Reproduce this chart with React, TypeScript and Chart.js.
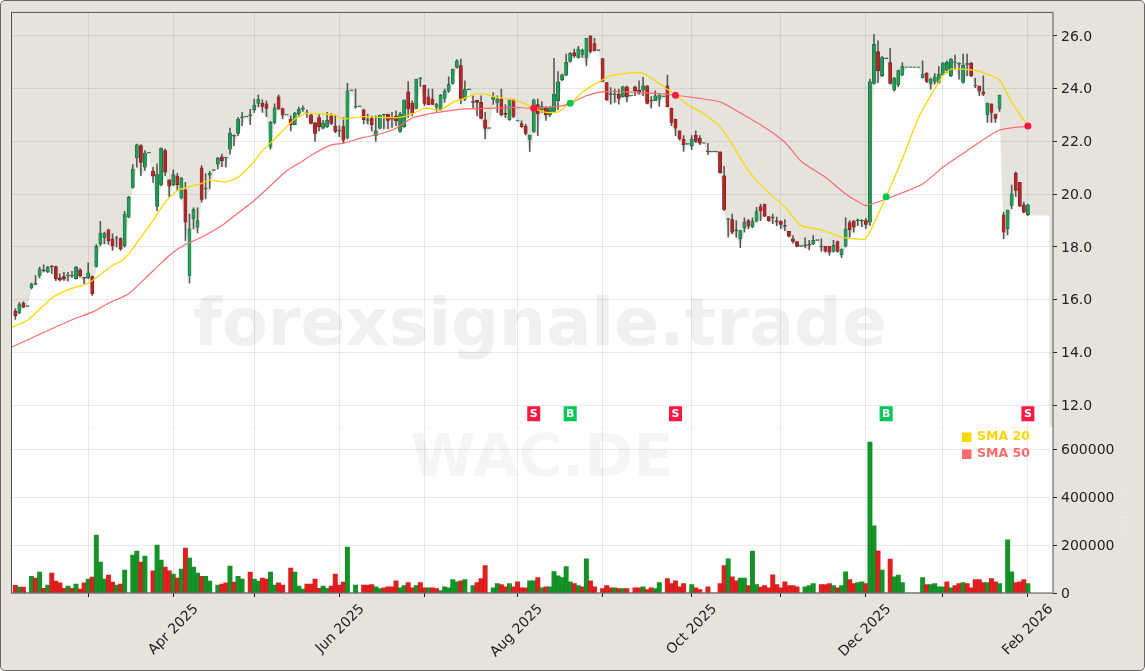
import { useEffect, useRef } from "react";
import { Chart, registerables } from "chart.js";

Chart.register(...registerables);

const opens = [
  15.57,15.50,15.87,15.75,16.45,16.58,16.92,17.12,17.05,17.25,
  17.26,16.83,16.88,16.90,16.90,16.80,17.13,16.84,16.83,16.88,
  17.26,18.12,18.35,18.65,18.30,18.33,18.32,18.05,19.13,20.26,
  21.37,21.84,21.02,21.56,20.88,19.54,20.35,21.65,20.54,20.35,
  20.69,19.85,20.17,16.90,19.06,18.75,21.00,20.20,20.72,20.90,
  21.14,21.42,21.37,21.71,22.20,22.30,22.90,22.93,22.98,23.20,
  23.44,23.45,23.42,21.78,22.70,23.69,23.24,23.00,22.85,22.63,
  23.04,23.22,23.05,23.00,22.70,22.90,22.50,22.56,22.97,22.58,
  22.40,22.56,22.13,23.92,23.30,23.32,23.20,22.80,22.88,22.22,
  22.50,23.00,23.04,22.85,22.95,22.38,22.56,23.88,23.45,23.25,
  24.38,24.13,23.69,23.60,23.30,23.19,23.63,23.90,24.20,24.80,
  24.87,23.60,23.96,23.50,23.56,23.48,22.82,22.49,23.59,23.48,
  23.60,23.06,22.82,23.58,22.78,22.68,22.58,22.08,22.38,23.40,
  23.19,23.26,23.00,23.14,23.54,24.34,24.51,25.03,25.37,25.18,
  25.30,25.18,26.00,25.71,25.45,25.14,24.23,23.78,23.77,23.79,
  23.70,24.07,23.72,24.07,23.94,23.94,24.11,23.55,23.54,23.60,
  23.70,24.11,23.26,22.85,22.40,22.09,21.90,21.84,22.24,22.12,
  21.93,21.62,21.60,21.60,21.61,20.70,19.04,19.04,18.62,18.31,
  18.72,19.00,18.77,18.98,19.53,19.63,19.15,19.10,18.98,18.96,
  18.79,18.59,18.31,18.20,18.02,18.05,18.08,18.12,18.25,18.00,
  18.02,18.02,17.84,18.20,17.70,18.03,18.92,18.99,19.00,18.98,
  19.00,18.94,24.20,25.40,24.49,25.14,24.99,23.96,24.15,24.52,
  24.80,24.80,24.80,24.80,24.42,24.59,24.20,24.27,24.23,24.52,
  24.70,24.49,24.99,24.93,24.24,24.93,24.97,24.10,24.10,23.88,
  23.00,23.42,23.04,23.25,19.22,18.69,19.57,20.80,20.45,19.60,19.22,
];
const highs = [
  15.66,15.90,15.93,15.75,16.63,16.92,17.24,17.32,17.27,17.30,
  17.28,16.98,17.04,17.04,17.08,17.27,17.18,16.84,17.40,16.90,
  18.09,18.97,18.56,18.68,18.50,18.40,18.35,19.35,19.92,21.12,
  21.90,21.88,21.65,21.56,21.02,21.15,21.75,21.71,20.54,20.92,
  20.79,20.64,20.45,19.25,19.48,19.48,21.08,20.77,20.87,20.90,
  21.40,21.52,21.40,22.51,22.25,22.91,23.10,22.93,23.22,23.60,
  23.77,23.58,23.54,22.76,23.42,23.77,23.26,23.00,22.97,23.10,
  23.30,23.35,23.19,23.03,22.72,23.03,22.80,23.10,23.06,23.00,
  22.60,22.90,24.20,23.92,23.98,23.32,23.23,23.04,22.97,22.97,
  23.00,23.04,23.04,23.10,23.16,23.10,23.58,24.27,23.54,24.36,
  24.42,24.13,23.98,23.98,23.44,23.78,23.98,24.45,24.74,25.10,
  25.12,24.30,23.96,23.73,23.56,23.73,23.10,22.49,23.85,23.73,
  23.98,23.40,23.60,23.60,22.78,22.78,22.65,22.24,23.60,23.60,
  23.50,23.32,23.32,25.15,24.65,24.55,25.31,25.37,25.50,25.60,
  25.50,25.91,26.00,25.91,25.45,25.14,24.23,24.04,23.98,23.98,
  24.10,24.10,23.72,24.10,24.30,24.43,24.12,23.70,23.92,23.77,
  23.70,24.51,23.26,22.85,22.40,22.22,21.90,22.22,22.40,22.22,
  21.93,21.93,21.60,21.60,21.61,21.06,19.09,19.25,19.00,18.62,
  19.10,19.04,19.10,19.50,19.63,19.63,19.15,19.25,19.13,19.00,
  19.04,18.59,18.43,18.20,18.02,18.35,18.25,18.43,18.25,18.31,
  18.02,18.02,18.25,18.22,17.93,19.10,19.00,19.00,19.06,19.04,
  19.09,24.36,26.06,25.81,25.22,25.14,25.53,24.43,24.70,24.99,
  24.80,24.80,24.80,24.80,25.05,24.61,24.40,24.57,24.84,24.99,
  25.05,25.14,25.27,24.99,25.31,25.31,25.00,24.40,24.10,24.49,
  23.45,23.42,23.04,23.76,19.32,19.40,20.35,20.85,20.45,19.70,19.63,
];
const lows = [
  15.25,15.47,15.70,15.75,16.41,16.58,16.83,17.05,17.03,17.00,
  16.72,16.70,16.73,16.70,16.85,16.78,16.86,16.60,16.80,16.16,
  17.23,18.05,18.12,18.10,17.87,18.00,17.87,17.99,19.11,20.23,
  21.02,20.70,20.90,21.56,20.45,19.38,20.32,20.70,19.90,20.32,
  20.13,19.82,18.24,16.63,18.68,18.53,19.70,19.82,20.20,20.90,
  20.96,21.04,21.02,21.52,21.84,22.22,22.60,22.93,22.63,23.10,
  23.31,23.10,22.94,21.71,22.66,23.22,22.85,23.00,22.40,22.63,
  22.98,23.14,22.91,22.66,22.00,22.40,22.47,22.53,22.63,22.33,
  22.18,21.93,22.09,23.92,23.26,23.32,22.66,22.66,22.40,22.00,
  22.47,22.47,22.47,22.53,22.60,22.34,22.53,22.91,22.97,23.23,
  24.08,23.35,23.39,23.39,23.14,23.17,23.48,23.86,24.17,24.78,
  23.42,23.54,23.96,23.26,22.97,22.85,22.09,22.49,23.40,23.10,
  22.97,22.90,22.80,22.90,22.78,22.53,22.25,21.61,22.34,22.22,
  23.10,22.80,22.95,23.10,23.20,24.30,24.49,25.00,25.18,25.15,
  25.18,24.87,25.34,25.43,25.45,24.26,23.54,23.41,23.48,23.41,
  23.68,23.50,23.72,23.73,23.79,23.73,23.42,23.26,23.54,23.33,
  23.70,23.31,22.60,22.22,22.05,21.62,21.90,21.69,21.96,21.88,
  21.93,21.50,21.60,21.60,20.80,19.38,18.37,18.50,18.37,17.97,
  18.56,18.69,18.72,18.95,19.00,19.15,18.97,18.88,18.81,18.69,
  18.62,18.37,18.14,18.00,18.02,17.96,17.89,18.09,18.25,17.83,
  17.80,17.68,17.80,17.80,17.59,18.00,18.37,18.56,18.81,18.77,
  18.69,18.81,24.17,24.23,24.45,25.14,24.17,23.90,24.07,24.49,
  24.80,24.80,24.80,24.80,24.40,24.23,23.98,24.17,24.20,24.49,
  24.60,24.45,24.74,24.36,24.21,24.49,24.45,24.04,23.73,23.73,
  22.72,22.72,22.72,23.14,18.31,18.46,19.45,19.92,19.53,19.29,19.19,
];
const closes = [
  15.40,15.82,15.72,15.75,16.58,16.62,17.17,17.10,17.24,17.24,
  16.80,16.76,16.78,16.92,16.92,17.24,16.91,16.82,17.02,16.23,
  18.02,18.53,18.53,18.24,18.05,18.36,17.93,19.25,19.88,20.95,
  21.87,21.20,21.56,21.56,20.68,20.74,21.75,20.83,20.30,20.74,
  20.36,20.61,18.94,18.69,19.42,19.00,19.80,20.20,20.80,20.90,
  21.37,21.27,21.40,22.32,22.23,22.85,22.93,22.93,23.00,23.38,
  23.60,23.33,23.25,22.72,23.27,23.22,22.99,23.00,22.63,23.07,
  23.22,23.26,23.07,22.68,22.30,22.56,22.70,22.80,22.68,22.38,
  22.40,22.05,23.92,23.92,23.33,23.32,22.82,22.80,22.63,22.40,
  23.00,23.00,22.80,22.84,22.78,23.04,23.57,23.23,23.07,24.36,
  24.40,23.44,23.39,23.40,23.40,23.75,23.90,24.15,24.74,25.05,
  23.60,23.96,23.96,23.48,23.48,22.87,22.49,22.49,23.70,23.60,
  23.00,23.02,23.58,22.95,22.78,22.56,22.30,22.24,23.58,23.04,
  23.32,23.00,23.29,23.79,24.26,24.52,25.00,25.34,25.24,25.50,
  25.45,25.91,25.41,25.43,25.45,24.27,23.57,23.80,23.79,23.63,
  24.07,23.70,23.72,23.92,23.83,24.11,23.44,23.53,23.73,23.77,
  23.70,23.31,22.72,22.50,22.09,21.88,21.90,22.09,22.00,21.93,
  21.93,21.60,21.60,21.60,20.82,19.42,19.05,18.56,18.62,18.62,
  18.93,18.79,18.96,19.34,19.38,19.17,19.00,19.12,18.96,18.85,
  18.78,18.41,18.21,18.02,18.02,18.06,18.07,18.25,18.25,18.00,
  17.84,17.80,18.06,17.83,17.90,18.68,18.66,18.75,19.00,18.98,
  18.85,24.26,25.68,24.68,25.18,25.14,24.20,24.40,24.68,24.84,
  24.80,24.80,24.80,24.80,24.55,24.27,24.36,24.45,24.55,24.97,
  25.00,25.12,24.99,24.93,24.89,24.92,24.49,24.10,23.90,23.79,
  23.45,23.10,22.87,23.76,18.56,19.40,20.01,20.14,19.55,19.32,19.60,
];
const volumes = [
  32000,25000,25000,0,70000,62000,87000,20000,33000,83000,
  50000,42000,20000,29000,20000,37000,16000,42000,58000,66000,
  242000,129000,58000,75000,46000,33000,37000,96000,0,158000,
  175000,129000,154000,0,92000,200000,137000,108000,92000,79000,
  62000,100000,187000,146000,108000,83000,70000,70000,50000,0,
  33000,37000,42000,112000,46000,70000,58000,0,87000,58000,
  50000,62000,58000,87000,33000,42000,33000,0,104000,87000,
  29000,16000,37000,37000,58000,20000,29000,20000,29000,79000,
  33000,46000,192000,0,33000,0,33000,33000,35000,26000,
  18000,22000,26000,26000,51000,22000,31000,43000,22000,31000,
  43000,22000,22000,22000,18000,10000,26000,22000,56000,47000,
  51000,56000,0,31000,43000,60000,114000,0,22000,39000,
  35000,26000,39000,26000,47000,22000,22000,51000,51000,64000,
  22000,26000,26000,89000,72000,64000,110000,47000,39000,31000,
  26000,143000,51000,26000,0,18000,31000,22000,22000,18000,
  18000,18000,0,22000,22000,26000,14000,22000,18000,43000,
  0,60000,39000,51000,26000,39000,0,35000,22000,14000,
  0,26000,0,0,39000,114000,143000,68000,51000,62000,
  62000,31000,175000,35000,25000,31000,22000,76000,35000,22000,
  47000,31000,31000,26000,0,26000,31000,39000,0,35000,
  35000,39000,31000,22000,31000,88000,56000,39000,43000,47000,
  39000,630000,280000,176000,96000,0,142000,67000,75000,43000,
  0,0,0,0,64000,35000,35000,39000,26000,26000,
  47000,22000,31000,39000,43000,39000,22000,56000,56000,43000,
  43000,60000,47000,39000,0,222000,88000,43000,47000,56000,39000,
];
const volSides =
  "rgrrgrgrgr" + "rrrgrgrrgr" + "gggrrgrggg" + "grggrggrrg" + "rgrgggrggg" +
  "grrgrgggrg" + "grrggrrrrg" + "ggrrrrggrr" + "rrggggrrrg" + "grrrrggrrg" +
  "rrgrrggggg" + "rgggrrrrgg" + "rrgrrrrggr" + "grggggggrg" + "rgrrrrrrgr" +
  "grrrrgrrgg" + "rrrrrrrgrr" + "rrrrrrgrrg" + "grggrrrrrr" + "rrrrrggggr" +
  "rrgrggrrgg" + "rggrggrggg" + "gggggrgggg" + "rgrrgrrrrr" + "grrgrggrrrg";

const sma20Idx = [-1,3,9,13,18,21,24,26,28,31,34,37,40,42,46,48,50,52,55,59,61,64,67,69,72,76,79,81,86,90,95,98,101,105,108,111,114,116,119,123,125,128,131,134,137,141,145,147,153,155,158,163,166,170,174,177,181,185,190,194,199,204,208,210,215,219,223,229,231,236,239,243,246,250];
const sma20 = [14.95,15.22,16.06,16.38,16.63,16.96,17.3,17.45,17.74,18.37,19.0,19.7,20.14,20.24,20.41,20.54,20.49,20.47,20.64,21.25,21.65,22.09,22.56,22.85,23.06,23.04,23.0,22.85,22.94,22.91,22.91,23.04,23.26,23.19,23.48,23.64,23.82,23.79,23.67,23.57,23.48,23.26,23.1,23.12,23.45,23.98,24.33,24.49,24.61,24.57,24.3,23.75,23.39,23.04,22.56,21.9,20.89,20.2,19.51,18.81,18.65,18.37,18.3,18.31,19.91,21.33,22.9,24.49,24.74,24.71,24.61,24.32,23.48,22.58];

const sma50Idx = [-1,14,19,23,28,32,36,39,42,46,51,55,59,63,67,70,74,78,81,86,90,94,98,102,106,111,118,123,128,135,137,141,145,151,158,163,169,174,177,184,190,194,200,205,208,210,215,224,229,235,243,250];
const sma50 = [14.2,15.24,15.53,15.87,16.23,16.8,17.39,17.8,18.09,18.37,18.81,19.29,19.76,20.32,20.89,21.17,21.56,21.87,21.93,22.15,22.28,22.5,22.89,23.04,23.14,23.23,23.26,23.29,23.26,23.35,23.45,23.73,23.88,23.88,23.82,23.75,23.63,23.5,23.26,22.63,21.97,21.25,20.64,20.01,19.72,19.57,19.82,20.39,21.02,21.65,22.43,22.58];

const signalIdx = [128, 137, 163, 215, 250];
const signalPrice = [23.26, 23.45, 23.75, 19.9, 22.58];
const signalKind = ["S", "B", "S", "B", "S"];

const tickIdx = [18, 39, 59, 80, 101, 124, 145, 167, 189, 210, 229, 250];
const tickText = ["", "Apr 2025", "", "Jun 2025", "", "Aug 2025", "", "Oct 2025", "", "Dec 2025", "", "Feb 2026"];
const priceTicks = [12, 14, 16, 18, 20, 22, 24, 26];
const volTicks = [0, 200000, 400000, 600000];

const xMin = -0.94;
const xMax = 256.2;
const priceMin = 11.168;
const priceMax = 26.889;
const volMax = 691667;

const BG = "#e5e3dd";
const SMA20_COLOR = "#ffd700";
const SMA50_COLOR = "#ff6b6b";
const BUY = "#00c853";
const SELL = "#ff1744";
const FONT = "'DejaVu Sans'";

// white area top: follows the lows, with the one outlier at the long wick in March
const areaTop = lows.map((v, i) => (i === 43 ? closes[43] : v));

const overlay = {
  id: "overlay",
  beforeDraw(chart: any) {
    const { ctx, chartArea, scales } = chart;
    ctx.save();
    ctx.fillStyle = "#fff";
    ctx.fillRect(chartArea.left, scales.yVol.top, chartArea.width, scales.yVol.height);
    ctx.restore();
  },
  beforeDatasetsDraw(chart: any) {
    const { ctx, scales } = chart;
    ctx.save();
    ctx.textAlign = "center";
    ctx.textBaseline = "middle";
    ctx.fillStyle = "rgba(0,0,0,0.06)";
    ctx.font = `bold 66.6px ${FONT}`;
    ctx.fillText("forexsignale.trade", 540, 328);
    ctx.fillStyle = "rgba(0,0,0,0.04)";
    ctx.font = `bold 59px ${FONT}`;
    ctx.fillText("WAC.DE", 542, 461);
    ctx.restore();

    ctx.save();
    ctx.fillStyle = "rgba(255,255,255,0.15)";
    ctx.font = `13px ${FONT}`;
    ctx.textAlign = "center";
    ctx.textBaseline = "middle";
    ctx.translate(1106, (scales.y.top + scales.y.bottom) / 2);
    ctx.rotate(-Math.PI / 2);
    ctx.fillText("Kurs", 0, 0);
    ctx.restore();

    ctx.save();
    ctx.fillStyle = "rgba(255,255,255,0.18)";
    ctx.font = `13px ${FONT}`;
    ctx.textAlign = "center";
    ctx.textBaseline = "middle";
    ctx.translate(1125, (scales.yVol.top + scales.yVol.bottom) / 2);
    ctx.rotate(-Math.PI / 2);
    ctx.fillText("Volumen", 0, 0);
    ctx.restore();
  },
  afterDatasetsDraw(chart: any) {
    const { ctx, chartArea, scales } = chart;
    ctx.save();
    ctx.strokeStyle = "#555";
    ctx.lineWidth = 1;
    ctx.strokeRect(chartArea.left, chartArea.top, chartArea.width, chartArea.height);

    // signal badges
    ctx.font = `bold 11px ${FONT}`;
    ctx.textAlign = "center";
    ctx.textBaseline = "middle";
    signalIdx.forEach((idx, k) => {
      const cx = scales.x.getPixelForValue(idx);
      const cy = scales.y.getPixelForValue(11.68);
      ctx.fillStyle = signalKind[k] === "B" ? BUY : SELL;
      ctx.fillRect(cx - 6.5, cy - 7.5, 13, 15);
      ctx.fillStyle = "#fff";
      ctx.fillText(signalKind[k], cx, cy + 0.5);
    });

    // legend
    ctx.textAlign = "left";
    ctx.font = `bold 12.5px ${FONT}`;
    [["SMA 20", SMA20_COLOR, 437], ["SMA 50", SMA50_COLOR, 454]].forEach(([text, color, y]: any) => {
      ctx.fillStyle = color;
      ctx.fillRect(962, y - 4.5, 9.5, 9.5);
      ctx.fillText(text, 977, y);
    });
    ctx.restore();
  },
};

export default function App() {
  const canvasRef = useRef<HTMLCanvasElement>(null);

  useEffect(() => {
    if (!canvasRef.current) return;

    const up = closes.map((c, i) => c >= opens[i]);
    const grid = "rgba(120,120,120,0.16)";

    const chart = new Chart(canvasRef.current, {
      type: "bar",
      data: {
        datasets: [
          {
            type: "line",
            data: [
              { x: xMin, y: 15.7 },
              ...areaTop.map((y, x) => ({ x, y })),
              { x: 255.4, y: lows[lows.length - 1] },
            ],
            yAxisID: "y",
            borderWidth: 0,
            pointRadius: 0,
            backgroundColor: "#fff",
            fill: { value: priceMin },
            order: 10,
          },
          {
            type: "bar",
            data: volumes.map((y, x) => ({ x, y })),
            yAxisID: "yVol",
            grouped: false,
            barThickness: 4.3,
            backgroundColor: volumes.map((_, i) =>
              volSides[i] === "g" ? "rgba(10,140,30,0.95)" : "rgba(220,20,20,0.95)"
            ),
            order: 8,
          },
          {
            type: "bar",
            data: lows.map((l, x) => ({ x, y: [l, highs[x]] })),
            yAxisID: "y",
            grouped: false,
            barThickness: 0.9,
            backgroundColor: "rgba(60,60,60,0.85)",
            order: 6,
          },
          {
            type: "bar",
            data: opens.map((o, x) => ({ x, y: [o, closes[x]] })),
            yAxisID: "y",
            grouped: false,
            barThickness: 3.2,
            minBarLength: 0.8,
            borderSkipped: false,
            borderWidth: 0.5,
            backgroundColor: up.map((u) => (u ? "#1f9d55" : "#b52626")),
            borderColor: up.map((u) => (u ? "#1d4d33" : "#5a1f1f")),
            order: 5,
          },
          {
            type: "line",
            data: sma50Idx.map((x, i) => ({ x, y: sma50[i] })),
            yAxisID: "y",
            borderColor: SMA50_COLOR,
            borderWidth: 1.2,
            pointRadius: 0,
            tension: 0.2,
            order: 3,
          },
          {
            type: "line",
            data: sma20Idx.map((x, i) => ({ x, y: sma20[i] })),
            yAxisID: "y",
            borderColor: SMA20_COLOR,
            borderWidth: 1.3,
            pointRadius: 0,
            tension: 0.2,
            order: 2,
          },
          {
            type: "line",
            data: signalIdx.map((x, i) => ({ x, y: signalPrice[i] })),
            yAxisID: "y",
            showLine: false,
            pointRadius: 3.5,
            pointBorderWidth: 0,
            pointBackgroundColor: signalKind.map((k) => (k === "B" ? BUY : SELL)),
            order: 1,
          },
        ] as any,
      },
      options: {
        responsive: false,
        animation: false,
        events: [],
        layout: { padding: { left: 11.5, top: 11.5, right: 0, bottom: 0 } },
        plugins: {
          legend: { display: false },
          tooltip: { enabled: false },
          filler: { drawTime: "beforeDraw" },
        } as any,
        scales: {
          x: {
            type: "linear",
            position: "bottom",
            offset: false,
            min: xMin,
            max: xMax,
            afterBuildTicks: (scale: any) => {
              scale.ticks = tickIdx.map((value) => ({ value }));
            },
            afterFit: (scale: any) => {
              scale.height = 78;
            },
            grid: { color: grid, offset: false, tickColor: "#222", tickLength: 4 },
            border: { display: false },
            ticks: {
              autoSkip: false,
              maxRotation: 45,
              minRotation: 45,
              labelOffset: 23,
              padding: 4,
              color: "#222",
              font: { family: FONT, size: 14 },
              callback: (v: any) => tickText[tickIdx.indexOf(v)] ?? "",
            },
          },
          y: {
            type: "linear",
            position: "right",
            stack: "panels",
            stackWeight: 415.5,
            min: priceMin,
            max: priceMax,
            afterBuildTicks: (scale: any) => {
              scale.ticks = priceTicks.map((value) => ({ value }));
            },
            afterFit: (scale: any) => {
              scale.width = 92;
            },
            grid: { color: grid, tickColor: "#222", tickLength: 4 },
            border: { display: false },
            ticks: {
              padding: 4,
              labelOffset: 1,
              color: "#222",
              font: { family: FONT, size: 14 },
              callback: (v: any) => Number(v).toFixed(1),
            },
          },
          yVol: {
            type: "linear",
            position: "right",
            stack: "panels",
            stackWeight: 166,
            min: 0,
            max: volMax,
            afterBuildTicks: (scale: any) => {
              scale.ticks = volTicks.map((value) => ({ value }));
            },
            afterFit: (scale: any) => {
              scale.width = 92;
            },
            grid: { color: grid, tickColor: "#222", tickLength: 4 },
            border: { display: false },
            ticks: {
              padding: 4,
              labelOffset: 1,
              color: "#222",
              font: { family: FONT, size: 14 },
              callback: (v: any) => String(v),
            },
          },
        } as any,
      },
      plugins: [overlay],
    });

    return () => chart.destroy();
  }, []);

  return (
    <div
      style={{
        position: "absolute",
        left: 0,
        top: 0,
        width: 1145,
        height: 671,
        boxSizing: "border-box",
        background: BG,
        border: "1px solid #666",
        borderRadius: 5,
        overflow: "hidden",
      }}
    >
      <canvas
        ref={canvasRef}
        width={1145}
        height={671}
        style={{ position: "absolute", left: -1, top: -1 }}
      />
    </div>
  );
}
